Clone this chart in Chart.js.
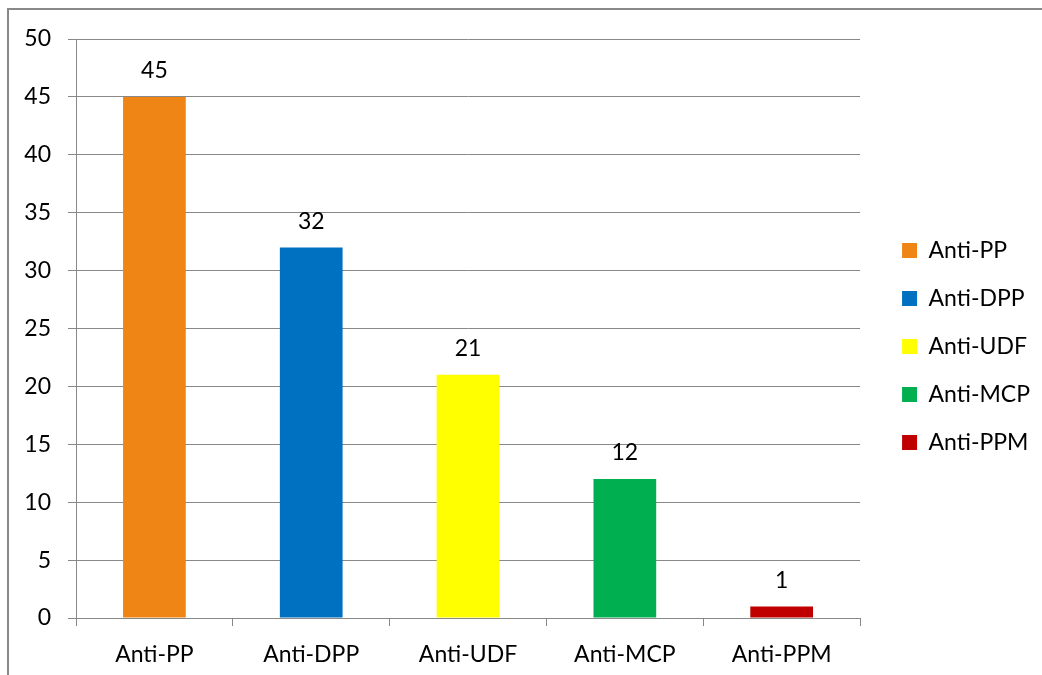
<!DOCTYPE html>
<html>
<head>
<meta charset="utf-8">
<script src="https://cdn.jsdelivr.net/npm/chart.js@4/dist/chart.umd.min.js"></script>
<style>
  html, body { margin: 0; padding: 0; background: #fff; overflow: hidden; }
  #frame { position: absolute; left: 7px; top: 8px; width: 1100px; height: 700px; border: 2px solid #888; box-sizing: border-box; }
  #wrap { position: absolute; left: 0; top: 0; width: 1042px; height: 675px; }
</style>
</head>
<body>
<div id="frame"></div>
<div id="wrap"><canvas id="c" width="1042" height="675"></canvas></div>
<script>
const categories = ["Anti-PP", "Anti-DPP", "Anti-UDF", "Anti-MCP", "Anti-PPM"];
const values = [45, 32, 21, 12, 1];
const barColors = ["#EE8514", "#0070C0", "#FFFF00", "#00B050", "#C00000"];
const yTicks = [0, 5, 10, 15, 20, 25, 30, 35, 40, 45, 50];

const FONT = "Lato, 'Liberation Sans', sans-serif";
const FS = 23;
const GRID = "#888888";

const valueLabels = {
  id: 'valueLabels',
  afterDatasetsDraw(chart) {
    const ctx = chart.ctx;
    const meta = chart.getDatasetMeta(0);
    ctx.save();
    ctx.font = FS + "px " + FONT;
    ctx.fillStyle = "#000";
    ctx.textAlign = "center";
    ctx.textBaseline = "middle";
    meta.data.forEach((bar, i) => {
      ctx.fillText(String(values[i]), bar.x, bar.y - 26);
    });
    ctx.restore();
  }
};

new Chart(document.getElementById('c'), {
  type: 'bar',
  data: {
    labels: categories,
    datasets: [{
      data: values,
      backgroundColor: barColors,
      borderWidth: 0,
      categoryPercentage: 0.8,
      barPercentage: 0.5
    }]
  },
  options: {
    responsive: false,
    animation: false,
    color: '#000',
    layout: { padding: { left: 0, top: 39, right: 2, bottom: 0 } },
    plugins: {
      tooltip: { enabled: false },
      legend: {
        position: 'right',
        align: 'center',
        fullSize: false,
        title: {
          display: true,
          text: ' ',
          color: '#000',
          font: { family: FONT, size: 10, lineHeight: 1 },
          padding: { top: 0, bottom: 26 }
        },
        labels: {
          font: { family: FONT, size: FS },
          color: '#000',
          boxWidth: 15,
          boxHeight: 15,
          padding: 25,
          generateLabels(chart) {
            return categories.map((c, i) => ({
              text: c,
              fillStyle: barColors[i],
              strokeStyle: barColors[i],
              fontColor: '#000',
              lineWidth: 0,
              hidden: false,
              index: i
            }));
          }
        },
        onClick: null
      }
    },
    scales: {
      x: {
        grid: { display: true, drawOnChartArea: false, drawTicks: true, tickLength: 8, color: GRID, offset: true },
        border: { display: true, color: GRID, width: 1 },
        ticks: { font: { family: FONT, size: FS }, color: '#000', padding: 15 },
        afterFit(scale) { scale.height = 57; }
      },
      y: {
        min: 0, max: 50,
        afterBuildTicks(scale) { scale.ticks = yTicks.map(v => ({ value: v })); },
        grid: { color: GRID, lineWidth: 1, tickLength: 8 },
        border: { display: true, color: GRID, width: 1 },
        ticks: { font: { family: FONT, size: FS }, color: '#000', padding: 17 },
        afterFit(scale) { scale.width = 76; }
      },
      gap: {
        type: 'linear',
        position: 'right',
        display: true,
        grid: { display: false, drawTicks: false },
        border: { display: false },
        ticks: { display: false },
        afterFit(scale) { scale.width = 17; }
      }
    }
  },
  plugins: [valueLabels]
});
</script>
</body>
</html>
